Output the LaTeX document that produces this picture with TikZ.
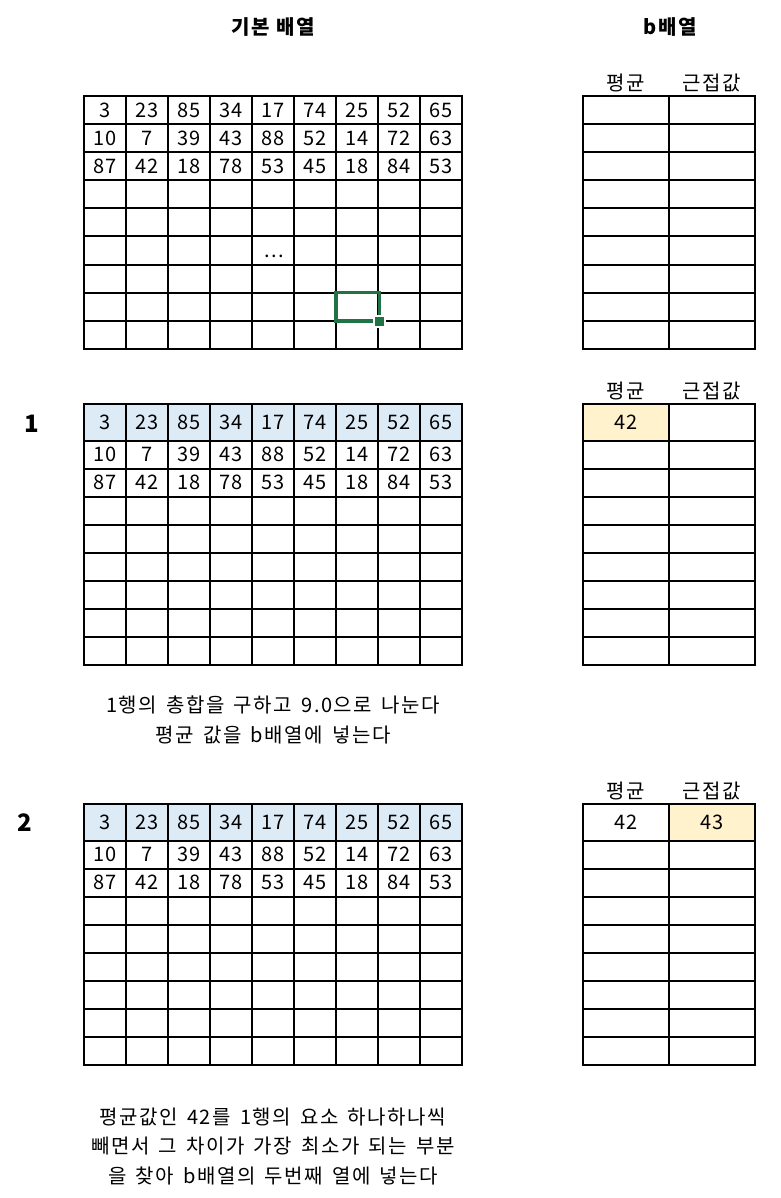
\documentclass[tikz,border=0pt]{standalone}
\usepackage{fontspec}
\setmainfont{Noto Sans CJK KR}[LetterSpace=8]
\newfontfamily\notefont{Noto Sans CJK KR}[LetterSpace=8, WordSpace=1.5]

\definecolor{rowblue}{RGB}{221,235,247}
\definecolor{cellyellow}{RGB}{255,242,204}
\definecolor{selgreen}{RGB}{33,115,70}

% base array: #1 = name prefix, #2 = height of first row
\newcommand{\basegrid}[2]{%
  \draw [grid] (84,0) rectangle (462,{#2+224});
  \foreach \c in {1,...,8} \draw [grid] ({84+42*\c},0) -- ({84+42*\c},{#2+224});
  \foreach \r in {0,...,7} \draw [grid] (84,{#2+28*\r}) -- (462,{#2+28*\r});
  \foreach \v [count=\c] in {3,23,85,34,17,74,25,52,65}
    \node [num] (#1-1-\c) at ({63+42*\c},{#2/2}) {\v};
  \foreach \v [count=\c] in {10,7,39,43,88,52,14,72,63}
    \node [num] (#1-2-\c) at ({63+42*\c},{#2+14}) {\v};
  \foreach \v [count=\c] in {87,42,18,78,53,45,18,84,53}
    \node [num] (#1-3-\c) at ({63+42*\c},{#2+42}) {\v};
}
% b array: #1 = name prefix, #2 = height of first row
\newcommand{\bgrid}[2]{%
  \draw [grid] (583,0) rectangle (755,{#2+224});
  \draw [grid] (669,0) -- (669,{#2+224});
  \foreach \r in {0,...,7} \draw [grid] (583,{#2+28*\r}) -- (755,{#2+28*\r});
  \node [head] (#1-avg) at (626,-13.5) {평균};
  \node [head] (#1-near) at (712,-13.5) {근접값};
}

\begin{document}
\begin{tikzpicture}[
  x=1pt, y=-1pt,
  grid/.style={line width=2pt, line cap=rect},
  num/.style={font=\fontsize{20}{20}\selectfont, inner sep=0pt},
  head/.style={font=\fontsize{20}{20}\selectfont, inner sep=0pt},
  title/.style={font=\bfseries\fontsize{20}{20}\selectfont, inner sep=0pt},
  stepno/.style={font=\bfseries\fontsize{24}{24}\selectfont, inner sep=0pt},
  note/.style={align=center, font=\notefont\fontsize{20}{29.5}\selectfont, inner sep=0pt}
]
\useasboundingbox [fill=white] (0,0) rectangle (780,1198);

\node [title] (baseTitle) at (273,27) {기본 배열};
\node [title] (bTitle) at (670,27) {b배열};

\begin{scope}[shift={(0,96.5)}]
\basegrid{s1}{28}
\bgrid{t1}{28}
\node [num, anchor=base] (s1-dots) at (274,161) {...};
\draw [selgreen, line width=3.5pt] (336,196) rectangle (379.5,224.5);
\fill [white] (373,218) rectangle (386,231);
\fill [selgreen] (375,220) rectangle (384,229);
\end{scope}

\begin{scope}[shift={(0,404.3)}]
\fill [rowblue] (84,0) rectangle (462,36.4);
\fill [cellyellow] (583,0) rectangle (669,36.4);
\basegrid{s2}{36.4}
\bgrid{t2}{36.4}
\node [stepno] (one) at (32,19) {1};
\node [num] (t2-val) at (626,18.2) {42};
\end{scope}

\node [note] (note1) at (273,720) {1행의 총합을 구하고 9.0으로 나눈다\\평균 값을 b배열에 넣는다};

\begin{scope}[shift={(0,804.3)}]
\fill [rowblue] (84,0) rectangle (462,36.4);
\fill [cellyellow] (669,0) rectangle (755,36.4);
\basegrid{s3}{36.4}
\bgrid{t3}{36.4}
\node [stepno] (two) at (25,18.4) {2};
\node [num] (t3-val) at (626,18.2) {42};
\node [num] (t3-near) at (712,18.2) {43};
\end{scope}

\node [note] (note2) at (273,1146.5) {평균값인 42를 1행의 요소 하나하나씩\\빼면서 그 차이가 가장 최소가 되는 부분\\을 찾아 b배열의 두번째 열에 넣는다};
\end{tikzpicture}
\end{document}
